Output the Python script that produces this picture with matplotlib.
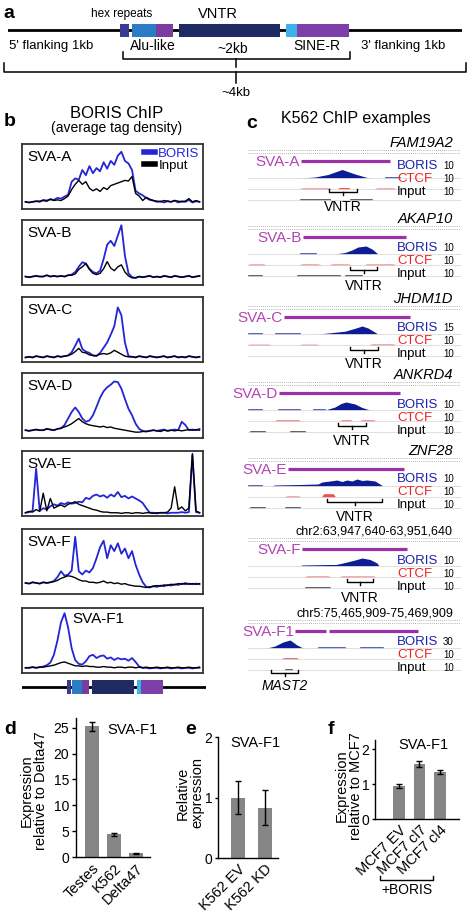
import matplotlib.pyplot as plt
from matplotlib.lines import Line2D
import numpy as np

plt.rcParams['font.family'] = ['Liberation Sans', 'DejaVu Sans']

W, H = 470, 913

# ---------------- data ----------------
# a: parts of the SVA element (fraction of the ~2kb element)
part_starts = [0.0, 0.052, 0.157, 0.258, 0.725, 0.773]
part_ends = [0.04, 0.157, 0.231, 0.70, 0.773, 1.0]
part_colors = ['#3b3a92', '#2b7cc6', '#7b3ca2', '#1f2b62', '#3bb3ea', '#7c40a8']

# b: average tag density (fraction of box height)
b_names = ['SVA-A', 'SVA-B', 'SVA-C', 'SVA-D', 'SVA-E', 'SVA-F', 'SVA-F1']
b_boris = [
    [0.11, 0.10, 0.11, 0.12, 0.11, 0.14, 0.13, 0.15, 0.14, 0.17, 0.16, 0.19, 0.22, 0.42, 0.47, 0.45, 0.60, 0.52, 0.66, 0.55,
     0.63, 0.58, 0.72, 0.62, 0.74, 0.68, 0.82, 0.88, 0.74, 0.70, 0.60, 0.28, 0.24, 0.21, 0.17, 0.14, 0.13, 0.11, 0.12, 0.10,
     0.12, 0.11, 0.13, 0.10, 0.12, 0.11, 0.14, 0.10, 0.12, 0.11],
    [0.13, 0.12, 0.13, 0.14, 0.13, 0.13, 0.15, 0.13, 0.14, 0.13, 0.14, 0.13, 0.15, 0.16, 0.20, 0.28, 0.35, 0.33, 0.25, 0.20,
     0.18, 0.22, 0.40, 0.62, 0.68, 0.60, 0.76, 0.92, 0.45, 0.18, 0.12, 0.11, 0.13, 0.12, 0.13, 0.14, 0.12, 0.13, 0.12, 0.14,
     0.13, 0.12, 0.14, 0.13, 0.12, 0.13, 0.14, 0.12, 0.13, 0.14],
    [0.07, 0.08, 0.07, 0.09, 0.08, 0.07, 0.09, 0.08, 0.07, 0.09, 0.08, 0.09, 0.10, 0.15, 0.25, 0.36, 0.20, 0.16, 0.14, 0.10,
     0.09, 0.14, 0.22, 0.30, 0.42, 0.55, 0.84, 0.72, 0.30, 0.09, 0.08, 0.07, 0.09, 0.08, 0.07, 0.09, 0.08, 0.07, 0.08, 0.09,
     0.07, 0.08, 0.09, 0.07, 0.08, 0.07, 0.09, 0.08, 0.07, 0.08],
    [0.12, 0.11, 0.12, 0.13, 0.12, 0.12, 0.14, 0.13, 0.12, 0.14, 0.15, 0.20, 0.30, 0.40, 0.47, 0.40, 0.30, 0.25, 0.27, 0.35,
     0.48, 0.62, 0.72, 0.78, 0.82, 0.87, 0.86, 0.76, 0.60, 0.45, 0.35, 0.22, 0.14, 0.11, 0.10, 0.11, 0.12, 0.11, 0.12, 0.13,
     0.11, 0.12, 0.13, 0.12, 0.25, 0.20, 0.12, 0.13, 0.12, 0.14],
    [0.05, 0.06, 0.08, 0.73, 0.08, 0.12, 0.10, 0.15, 0.18, 0.16, 0.20, 0.18, 0.21, 0.19, 0.20, 0.22, 0.21, 0.28, 0.26, 0.31,
     0.33, 0.30, 0.32, 0.28, 0.33, 0.30, 0.37, 0.29, 0.31, 0.27, 0.30, 0.27, 0.24, 0.20, 0.12, 0.05, 0.05, 0.04, 0.05, 0.05,
     0.04, 0.05, 0.05, 0.05, 0.06, 0.05, 0.06, 0.94, 0.06, 0.05],
    [0.17, 0.16, 0.18, 0.17, 0.16, 0.18, 0.17, 0.18, 0.20, 0.26, 0.35, 0.28, 0.30, 0.36, 0.88, 0.35, 0.30, 0.36, 0.33, 0.40,
     0.55, 0.72, 0.82, 0.55, 0.75, 0.66, 0.78, 0.62, 0.70, 0.55, 0.66, 0.45, 0.30, 0.18, 0.11, 0.10, 0.12, 0.11, 0.13, 0.12,
     0.14, 0.13, 0.15, 0.14, 0.16, 0.15, 0.16, 0.15, 0.16, 0.15],
    [0.08, 0.08, 0.09, 0.08, 0.09, 0.10, 0.12, 0.16, 0.28, 0.50, 0.78, 0.92, 0.70, 0.38, 0.20, 0.14, 0.13, 0.18, 0.26, 0.28,
     0.23, 0.26, 0.27, 0.22, 0.24, 0.20, 0.23, 0.21, 0.22, 0.19, 0.23, 0.17, 0.10, 0.08, 0.08, 0.07, 0.08, 0.08, 0.07, 0.08,
     0.08, 0.07, 0.08, 0.08, 0.07, 0.08, 0.08, 0.07, 0.08, 0.08],
]
b_input = [
    [0.11, 0.10, 0.11, 0.12, 0.12, 0.13, 0.12, 0.15, 0.13, 0.14, 0.13, 0.16, 0.20, 0.30, 0.38, 0.44, 0.38, 0.42, 0.32, 0.28,
     0.31, 0.27, 0.33, 0.30, 0.36, 0.38, 0.40, 0.42, 0.44, 0.43, 0.50, 0.24, 0.20, 0.13, 0.18, 0.15, 0.13, 0.12, 0.11, 0.13,
     0.12, 0.11, 0.13, 0.12, 0.11, 0.12, 0.16, 0.11, 0.13, 0.11],
    [0.13, 0.12, 0.13, 0.14, 0.13, 0.13, 0.15, 0.13, 0.14, 0.13, 0.14, 0.13, 0.15, 0.15, 0.17, 0.24, 0.28, 0.33, 0.24, 0.18,
     0.16, 0.18, 0.25, 0.36, 0.26, 0.22, 0.28, 0.31, 0.20, 0.14, 0.11, 0.11, 0.13, 0.12, 0.13, 0.14, 0.12, 0.13, 0.12, 0.14,
     0.13, 0.12, 0.14, 0.13, 0.12, 0.13, 0.14, 0.12, 0.13, 0.14],
    [0.07, 0.08, 0.07, 0.09, 0.08, 0.07, 0.09, 0.08, 0.07, 0.09, 0.08, 0.09, 0.10, 0.12, 0.16, 0.21, 0.15, 0.14, 0.11, 0.10,
     0.10, 0.12, 0.13, 0.12, 0.14, 0.18, 0.15, 0.12, 0.09, 0.08, 0.08, 0.07, 0.09, 0.08, 0.07, 0.09, 0.08, 0.07, 0.08, 0.09,
     0.07, 0.08, 0.09, 0.07, 0.08, 0.07, 0.09, 0.08, 0.07, 0.08],
    [0.12, 0.11, 0.12, 0.13, 0.12, 0.12, 0.14, 0.13, 0.12, 0.14, 0.15, 0.17, 0.19, 0.22, 0.26, 0.30, 0.25, 0.22, 0.20, 0.19,
     0.18, 0.17, 0.18, 0.16, 0.17, 0.15, 0.14, 0.13, 0.12, 0.11, 0.10, 0.09, 0.09, 0.10, 0.10, 0.11, 0.12, 0.11, 0.10, 0.12,
     0.11, 0.12, 0.11, 0.12, 0.11, 0.12, 0.13, 0.12, 0.13, 0.12],
    [0.05, 0.07, 0.06, 0.10, 0.07, 0.35, 0.08, 0.27, 0.12, 0.15, 0.17, 0.14, 0.18, 0.20, 0.22, 0.18, 0.16, 0.14, 0.12, 0.10,
     0.09, 0.07, 0.06, 0.06, 0.05, 0.05, 0.05, 0.04, 0.05, 0.05, 0.04, 0.05, 0.05, 0.04, 0.05, 0.05, 0.04, 0.05, 0.05, 0.05,
     0.06, 0.12, 0.45, 0.10, 0.14, 0.08, 0.12, 0.96, 0.08, 0.05],
    [0.17, 0.16, 0.18, 0.17, 0.16, 0.18, 0.17, 0.18, 0.19, 0.21, 0.24, 0.26, 0.28, 0.27, 0.25, 0.22, 0.20, 0.20, 0.18, 0.18,
     0.17, 0.18, 0.20, 0.17, 0.18, 0.16, 0.17, 0.15, 0.16, 0.14, 0.13, 0.12, 0.12, 0.11, 0.10, 0.11, 0.12, 0.13, 0.12, 0.14,
     0.13, 0.15, 0.14, 0.16, 0.15, 0.17, 0.15, 0.16, 0.15, 0.16],
    [0.08, 0.08, 0.09, 0.08, 0.09, 0.09, 0.10, 0.11, 0.12, 0.14, 0.16, 0.17, 0.15, 0.13, 0.11, 0.11, 0.10, 0.11, 0.10, 0.10,
     0.09, 0.09, 0.10, 0.09, 0.09, 0.08, 0.09, 0.09, 0.08, 0.09, 0.09, 0.08, 0.09, 0.08, 0.09, 0.08, 0.08, 0.09, 0.08, 0.08,
     0.09, 0.08, 0.08, 0.09, 0.08, 0.08, 0.09, 0.08, 0.08, 0.09],
]

# c: browser tracks (browser position units, heights in track units)
c_names = ['SVA-A', 'SVA-B', 'SVA-C', 'SVA-D', 'SVA-E', 'SVA-F', 'SVA-F1']
c_heads = ['FAM19A2', 'AKAP10', 'JHDM1D', 'ANKRD4', 'ZNF28',
           'chr2:63,947,640-63,951,640', 'chr5:75,465,909-75,469,909']
c_scales = [('10', '10', '10'), ('10', '10', '10'), ('15', '10', '10'), ('10', '10', '10'),
            ('10', '10', '10'), ('10', '10', '10'), ('30', '10', '10')]
c_sva = [[(301, 390)], [(303, 406)], [(284, 410)], [(279, 400)], [(288, 404)], [(302, 407)],
         [(295, 326), (329, 418)]]
c_boris_x = [[300, 315, 328, 342, 355, 367, 372],
             [335, 345, 352, 358, 366, 372, 378],
             [318, 330, 345, 356, 362, 368, 378],
             [325, 335, 341, 346, 355, 362, 370],
             [270, 275, 300, 318, 322, 330, 337, 342, 347, 352, 357, 362, 367, 375, 383],
             [300, 302, 330, 336, 345, 355, 362, 370, 377, 379],
             [267, 275, 283, 290, 297, 303]]
c_boris_h = [[0, 1, 3.5, 8.5, 4, 0.5, 0],
             [0, 1.5, 4, 7, 8, 5, 0],
             [0, 1.2, 2.8, 6, 8, 6, 0],
             [0, 3, 6.5, 8, 6, 2.5, 0],
             [0, 1, 1.5, 2, 4, 5, 6, 4.5, 6, 5, 7, 5.5, 6, 5, 0],
             [0, 1, 1.5, 1.5, 3.5, 6, 8, 6.5, 3, 0],
             [0, 2, 6, 8, 3, 0]]
c_boris_flat = [[(385, 400, 0.6)], [(300, 316, 0.8)], [(248, 262, 0.6), (275, 300, 0.6)],
                [(248, 262, 1.0), (278, 300, 1.3), (313, 325, 1.0)], [(248, 262, 0.6)], [],
                [(318, 345, 1.0), (360, 383, 0.8)]]
c_ctcf = [[(300, 330, 0.6), (338, 350, 1.2), (375, 395, 0.6)],
          [(248, 265, 0.6), (300, 320, 0.6), (330, 350, 0.6), (365, 395, 0.6)],
          [(248, 270, 0.5), (300, 318, 0.5), (370, 395, 0.6)],
          [(275, 300, 0.7), (340, 352, 0.7), (360, 375, 0.7)],
          [(285, 300, 0.6), (322, 335, 3.0)],
          [(305, 330, 0.6), (340, 375, 0.6)],
          [(282, 298, 1.0)]]
c_input = [[(300, 330, 0.5), (350, 372, 0.5)],
           [(248, 262, 0.6), (297, 340, 0.8), (345, 362, 0.6)],
           [],
           [(250, 265, 0.6), (290, 305, 0.6)],
           [(250, 265, 0.6), (285, 300, 0.6)],
           [(305, 330, 0.6)],
           [(285, 292, 0.6)]]
c_brackets = [(329, 357), (350, 377), (350, 378), (338, 366), (327, 382), (347, 373), (271, 298)]
c_bracket_text = ['VNTR', 'VNTR', 'VNTR', 'VNTR', 'VNTR', 'VNTR', 'MAST2']

# d, e, f: qPCR
d_labels = ['Testes', 'K562', 'Delta47']
d_vals = [25.3, 4.4, 0.7]
d_errs = [0.9, 0.3, 0.12]
e_labels = ['K562 EV', 'K562 KD']
e_vals = [1.0, 0.83]
e_errs = [0.28, 0.29]
f_labels = ['MCF7 EV', 'MCF7 cl7', 'MCF7 cl4']
f_vals = [0.95, 1.58, 1.35]
f_errs = [0.05, 0.08, 0.06]

BLUE = '#2424d8'
NAVY = '#0c1c94'
TXT_BLUE = '#1a22b0'
RED = '#ee2222'
MAG = '#b445b4'
BAR_MAG = '#9b30a8'
GREY = '#868686'

fig = plt.figure(figsize=(W / 100, H / 100), dpi=100)
ov = fig.add_axes([0, 0, 1, 1])
ov.set_xlim(0, W)
ov.set_ylim(H, 0)
ov.axis('off')
ov.set_zorder(10)


def px_axes(x0, y0, x1, y1):
    return fig.add_axes([x0 / W, 1 - y1 / H, (x1 - x0) / W, (y1 - y0) / H])


def schematic(x0, y0, x1, y1, e0, e1, lw):
    ax = px_axes(x0, y0, x1, y1)
    # element spans e0..e1 pixels -> 0..1
    unit = e1 - e0
    ax.set_xlim((x0 - e0) / unit, (x1 - e0) / unit)
    ax.set_ylim(0, 1)
    ax.axhline(0.5, color='black', lw=lw, zorder=1)
    ax.broken_barh([(s, e - s) for s, e in zip(part_starts, part_ends)], (0, 1),
                   facecolors=part_colors, zorder=2)
    ax.axis('off')
    return ax


# ---------------- a ----------------
ov.text(3, 13, 'a', fontsize=14, fontweight='bold', va='center')
schematic(8, 24, 462, 37, 120, 349, 2.0)
ov.text(122, 14, 'hex repeats', fontsize=8.5, ha='center', va='center')
ov.text(218, 14, 'VNTR', fontsize=10.5, ha='center', va='center')
ov.text(9, 46, "5' flanking 1kb", fontsize=9.5, va='center')
ov.text(153, 46, 'Alu-like', fontsize=10, ha='center', va='center')
ov.text(233, 49, '~2kb', fontsize=10, ha='center', va='center')
ov.text(317, 46, 'SINE-R', fontsize=10, ha='center', va='center')
ov.text(403, 46, "3' flanking 1kb", fontsize=9.5, ha='center', va='center')
ov.plot([123, 123, 350, 350], [52, 59, 59, 52], color='black', lw=1.1)
ov.plot([236, 236], [59, 67], color='black', lw=1.1)
ov.plot([4, 4, 466, 466], [63, 72, 72, 63], color='black', lw=1.1)
ov.plot([236, 236], [72, 83], color='black', lw=1.1)
ov.text(236, 93, '~4kb', fontsize=9.5, ha='center', va='center')

# ---------------- b ----------------
ov.text(4, 121, 'b', fontsize=14, fontweight='bold', va='center')
ov.text(117, 114, 'BORIS ChIP', fontsize=12, ha='center', va='center')
ov.text(117, 128, '(average tag density)', fontsize=10, ha='center', va='center')

b_tops = [144, 220, 297, 373, 451, 529, 608]
b_label_pos = [(0.03, 0.80)] * 6 + [(0.28, 0.83)]
for name, top, bo, inp, lp in zip(b_names, b_tops, b_boris, b_input, b_label_pos):
    ax = px_axes(22, top, 203, top + 65)
    ax.plot(np.linspace(0, 1, len(bo)), bo, color=BLUE, lw=1.3)
    ax.plot(np.linspace(0, 1, len(inp)), inp, color='black', lw=1.0)
    ax.set_xlim(-0.02, 1.02)
    ax.set_ylim(0, 1)
    ax.set_xticks([])
    ax.set_yticks([])
    for s in ax.spines.values():
        s.set_linewidth(1.3)
        s.set_color('#333333')
    ax.text(lp[0], lp[1], name, transform=ax.transAxes, fontsize=11, va='center')
    if name == 'SVA-A':
        handles = [Line2D([], [], color=BLUE, lw=4), Line2D([], [], color='black', lw=4)]
        ax.legend(handles, ['BORIS', 'Input'], loc='upper right', frameon=False, fontsize=9.5,
                  handlelength=0.8, handletextpad=0.25, labelspacing=0.0, borderaxespad=0.15,
                  borderpad=0.1, labelcolor=[BLUE, 'black'])

schematic(22, 680, 206, 694, 67, 163, 2.0)

# ---------------- c ----------------
ov.text(246, 123, 'c', fontsize=14, fontweight='bold', va='center')
ov.text(356, 119, 'K562 ChIP examples', fontsize=11.5, ha='center', va='center')

c_label_y = [162, 238, 318, 394, 470, 550, 632]
c_text_dy = [4, 10, 10, 11, 9, 11, 10]
c_bracket_dy = [30, 32, 32, 32, 32, 32, 41]
c_vtext_dy = [45, 48, 46, 47, 47, 48, 54]
rows = (16, 27, 38)
for i, name in enumerate(c_names):
    L = c_label_y[i]
    # head line (gene name or coordinates)
    italic = not c_heads[i].startswith('chr')
    ov.text(453, L - 19, c_heads[i], fontsize=10.5 if italic else 9, ha='right', va='center',
            style='italic' if italic else 'normal')
    for dy in (-12, -9):
        ov.plot([248, 460], [L + dy] * 2, color='#9a9a9a', lw=0.6, ls=(0, (1, 1.5)))
    for dy in rows:
        ov.plot([248, 460], [L + dy] * 2, color='#d9d9d9', lw=0.6)
    # SVA annotation
    ov.text(c_sva[i][0][0] - 1, L, name, fontsize=11, color=MAG, ha='right', va='center')
    for s, e in c_sva[i]:
        ov.plot([s, e], [L - 1, L - 1], color=BAR_MAG, lw=2.3, solid_capstyle='butt')
    # BORIS
    base = L + rows[0]
    bx = np.array(c_boris_x[i], dtype=float)
    bh = np.array(c_boris_h[i], dtype=float)
    ov.fill_between(bx, base, base - bh, color=NAVY, lw=0)
    for s, e, h in c_boris_flat[i]:
        ov.fill_between([s, e], base, base - h, color=NAVY, lw=0.4, edgecolor=NAVY, alpha=0.8)
    # CTCF
    base = L + rows[1]
    for s, e, h in c_ctcf[i]:
        ov.fill_between([s, s + 2, e - 2, e], base, base - np.array([0.3, h, h, 0.3]),
                        color=RED, lw=0.4, edgecolor=RED, alpha=0.8)
    # Input
    base = L + rows[2]
    for s, e, h in c_input[i]:
        ov.fill_between([s, e], base, base - h, color='black', lw=0.4, edgecolor='black', alpha=0.7)
    # labels
    ty = L + c_text_dy[i]
    for k, (lab, col) in enumerate([('BORIS', TXT_BLUE), ('CTCF', RED), ('Input', 'black')]):
        ov.text(397, ty + 13 * k, lab, fontsize=9.5, color=col, va='center')
        ov.text(443, ty + 13 * k, c_scales[i][k], fontsize=7, va='center')
    # bracket
    s, e = c_brackets[i]
    m = (s + e) / 2
    by = L + c_bracket_dy[i]
    ov.plot([s, s, e, e], [by - 3, by, by, by - 3], color='black', lw=1.0)
    ov.plot([m, m], [by, by + 3], color='black', lw=1.0)
    ov.text(m, L + c_vtext_dy[i], c_bracket_text[i], fontsize=10, ha='center', va='center',
            style='italic' if c_bracket_text[i] == 'MAST2' else 'normal')


# ---------------- d, e, f ----------------
def bar_axes(ax, labels, vals, errs, width, xlim, ylim, yticks, tick_len):
    ax.bar(range(len(vals)), vals, width=width, color=GREY, yerr=errs, capsize=2.5,
           error_kw=dict(lw=1.0, capthick=1.0, ecolor='black'))
    ax.set_xlim(*xlim)
    ax.set_ylim(*ylim)
    ax.set_yticks(yticks)
    ax.set_xticks(range(len(vals)), labels, rotation=45, ha='right', rotation_mode='anchor')
    for s in ('top', 'right'):
        ax.spines[s].set_visible(False)
    ax.spines['left'].set_linewidth(1.0)
    ax.spines['bottom'].set_linewidth(1.0)
    ax.tick_params(axis='y', length=tick_len, width=1, pad=2, labelsize=10)
    ax.tick_params(axis='x', length=0, pad=3, labelsize=10.5)
    ax.patch.set_visible(False)


ax_d = px_axes(76, 718, 150, 857)
bar_axes(ax_d, d_labels, d_vals, d_errs, 0.64, (-0.73, 2.64), (0, 26.9), [0, 5, 10, 15, 20, 25], 3)
ov.text(4, 730, 'd', fontsize=14, fontweight='bold', va='center')
ov.text(132, 730, 'SVA-F1', fontsize=10.5, ha='center', va='center')
ov.text(34, 791, 'Expression\nrelative to Delta47', fontsize=10.5, rotation=90,
        ha='center', va='center', linespacing=1.05)

ax_e = px_axes(218, 737, 278, 858)
bar_axes(ax_e, e_labels, e_vals, e_errs, 0.55, (-0.74, 1.48), (0, 2.0), [0, 1, 2], 2)
ov.text(185, 730, 'e', fontsize=14, fontweight='bold', va='center')
ov.text(255, 743, 'SVA-F1', fontsize=10.5, ha='center', va='center')
ov.text(190, 793, 'Relative\nexpression', fontsize=10.5, rotation=90,
        ha='center', va='center', linespacing=1.05)

ax_f = px_axes(375, 740, 459, 819)
bar_axes(ax_f, f_labels, f_vals, f_errs, 0.58, (-1.17, 2.93), (0, 2.26), [0, 1, 2], 2)
ov.text(328, 730, 'f', fontsize=14, fontweight='bold', va='center')
ov.text(423, 745, 'SVA-F1', fontsize=10.5, ha='center', va='center')
ov.text(349, 786, 'Expression\nrelative to MCF7', fontsize=10.5, rotation=90,
        ha='center', va='center', linespacing=1.05)
ov.plot([380, 380, 433, 433], [876, 880, 880, 876], color='black', lw=1.0)
ov.text(407, 890, '+BORIS', fontsize=10, ha='center', va='center')

fig.savefig('out.png', dpi=100)
